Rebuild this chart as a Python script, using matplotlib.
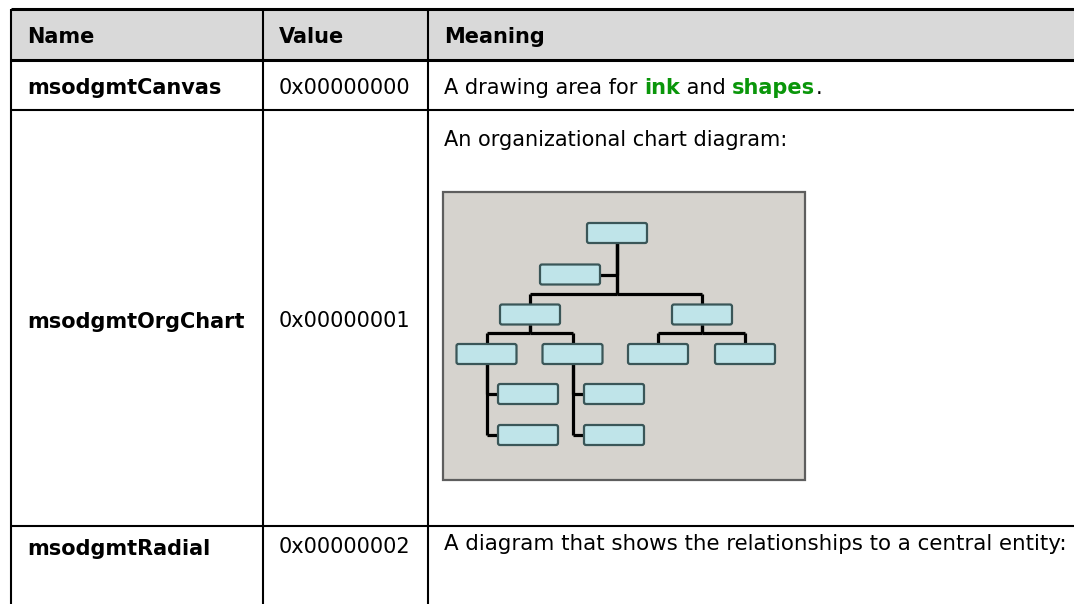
import matplotlib
matplotlib.use("Agg")
import matplotlib.pyplot as plt
from matplotlib.patches import Rectangle, FancyBboxPatch

# table content
headers = ["Name", "Value", "Meaning"]
names = ["msodgmtCanvas", "msodgmtOrgChart", "msodgmtRadial"]
values = ["0x00000000", "0x00000001", "0x00000002"]
# meaning of row 0 as (text, highlighted) pieces
canvas_meaning = [("A drawing area for ", False), ("ink", True), (" and ", False),
                  ("shapes", True), (".", False)]
orgchart_meaning = "An organizational chart diagram:"
radial_meaning = "A diagram that shows the relationships to a central entity:"

# org chart picture: node centres (diagram units), parent index, attach kind
node_x = [174, 127, 87, 259, 43.5, 129.5, 215, 302, 85, 85, 171, 171]
node_y = [41, 82.5, 122.5, 122.5, 162, 162, 162, 162, 202, 243, 202, 243]
node_parent = [None, 0, 0, 0, 2, 2, 3, 3, 4, 4, 5, 5]
node_kind = ["root", "assistant", "row", "row", "row", "row", "row", "row",
             "hang", "hang", "hang", "hang"]

FS = 15
GREEN = "#0a960a"
HEADER_BG = "#d9d9d9"

fig = plt.figure(figsize=(10.74, 6.04), dpi=100)
ax = fig.add_axes([0, 0, 1, 1])
ax.set_xlim(0, 1074)
ax.set_ylim(604, 0)
ax.axis("off")

col_x = [11, 263, 428]
row_y = [9, 60, 110, 526, 604]
pad = 16

# header background and rules
ax.add_patch(Rectangle((col_x[0], row_y[0]), 1074 - col_x[0], row_y[1] - row_y[0],
                       facecolor=HEADER_BG, edgecolor="none"))
ax.plot([col_x[0], 1074], [row_y[0], row_y[0]], color="black", lw=2.2, solid_capstyle="butt")
ax.plot([col_x[0], 1074], [row_y[1], row_y[1]], color="black", lw=2.2, solid_capstyle="butt")
for y in row_y[2:4]:
    ax.plot([col_x[0], 1074], [y, y], color="black", lw=1.5, solid_capstyle="butt")
for x in col_x:
    ax.plot([x, x], [row_y[0], 604], color="black", lw=1.5, solid_capstyle="butt")

# header text
for x, h in zip(col_x, headers):
    ax.text(x + pad, 43, h, fontsize=FS, fontweight="bold", va="baseline", ha="left")

# name / value columns
name_base = [94, 328, 555]
value_base = [94, 327, 553]
for i in range(3):
    ax.text(col_x[0] + pad, name_base[i], names[i], fontsize=FS, fontweight="bold",
            va="baseline", ha="left")
    ax.text(col_x[1] + pad, value_base[i], values[i], fontsize=FS,
            va="baseline", ha="left")

# meaning column
prev = None
for txt, hl in canvas_meaning:
    kw = dict(fontsize=FS, color=GREEN if hl else "black",
              fontweight="bold" if hl else "normal", ha="left")
    if prev is None:
        prev = ax.text(col_x[2] + pad, 94, txt, va="baseline", **kw)
    else:
        prev = ax.annotate(txt, xy=(1, 0), xycoords=prev, va="bottom", **kw)
ax.text(col_x[2] + pad, 146, orgchart_meaning, fontsize=FS, va="baseline", ha="left")
ax.text(col_x[2] + pad, 550, radial_meaning, fontsize=FS + 0.4, va="baseline", ha="left")

# org chart picture
ox, oy, dw, dh = 443, 192, 362, 288
ax.add_patch(Rectangle((ox, oy), dw, dh, facecolor="#d6d3ce", edgecolor="#5e5e5e", lw=1.6))

bw, bh = 60, 20
line_kw = dict(color="black", lw=2.3, solid_capstyle="butt", zorder=2)
for i, p in enumerate(node_parent):
    if p is None:
        continue
    cx, cy = ox + node_x[i], oy + node_y[i]
    px, py = ox + node_x[p], oy + node_y[p]
    if node_kind[i] == "assistant":
        ax.plot([cx + bw / 2, px], [cy, cy], **line_kw)
        ax.plot([px, px], [py + bh / 2, cy], **line_kw)
    elif node_kind[i] == "row":
        bus = cy - bh / 2 - 11
        ax.plot([px, px], [py + bh / 2, bus], **line_kw)
        ax.plot([px, cx], [bus, bus], **line_kw)
        ax.plot([cx, cx], [bus, cy - bh / 2], **line_kw)
    elif node_kind[i] == "hang":
        ax.plot([px, px], [py + bh / 2, cy], **line_kw)
        ax.plot([px, cx - bw / 2], [cy, cy], **line_kw)

for x, y in zip(node_x, node_y):
    ax.add_patch(FancyBboxPatch((ox + x - bw / 2 + 2, oy + y - bh / 2 + 2), bw - 4, bh - 4,
                                boxstyle="round,pad=2", facecolor="#bfe4e9",
                                edgecolor="#3a5658", lw=1.6, zorder=3))

fig.savefig("out.png", dpi=100)
